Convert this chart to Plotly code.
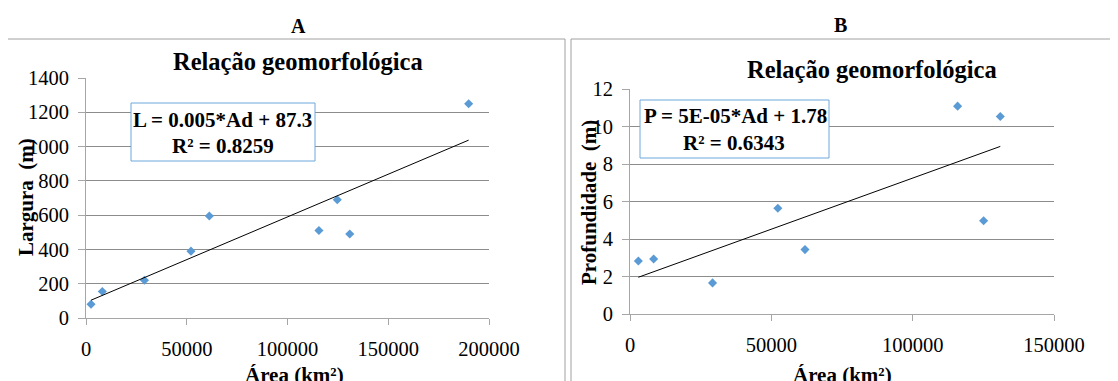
import numpy as np
import plotly.graph_objects as go

W, H = 1118, 381
OFF = 8  # page body margin

# ---- data ----
area_a = [2500, 8100, 29000, 52100, 61200, 115600, 124700, 130900, 189900]
largura = [80, 155, 220, 390, 595, 510, 690, 490, 1250]
area_b = [2950, 8370, 29200, 52300, 61900, 115900, 125100, 131000]
profundidade = [2.83, 2.94, 1.66, 5.65, 3.44, 11.1, 4.98, 10.55]
eq_a = ["L = 0.005*Ad + 87.3", "R² = 0.8259"]
eq_b = ["P = 5E-05*Ad + 1.78", "R² = 0.6343"]
title_txt = "Relação geomorfológica"

FONT = "Times New Roman, Liberation Serif, Tinos, serif"
GRID = "#8c8c8c"
AX = "#a6a6a6"
MK = "#5b9bd5"


def px(x):
    return (x - OFF) / W


def py(y):
    return 1 - (y - OFF) / H


fig = go.Figure()

for i, (xs, ys) in enumerate([(area_a, largura), (area_b, profundidade)]):
    xa = "x" if i == 0 else "x2"
    ya = "y" if i == 0 else "y2"
    fig.add_trace(go.Scatter(x=xs, y=ys, mode="markers", xaxis=xa, yaxis=ya,
                             marker=dict(symbol="diamond", size=7, color=MK),
                             showlegend=False))
    k, b = np.polyfit(xs, ys, 1)
    lx = np.array([min(xs), max(xs)])
    fig.add_trace(go.Scatter(x=lx, y=k * lx + b, mode="lines", xaxis=xa, yaxis=ya,
                             line=dict(color="black", width=1), showlegend=False))

tickfont = dict(family=FONT, size=20.5, color="black")
common_x = dict(showgrid=False, zeroline=False, showline=True, linecolor=AX, linewidth=1,
                ticks="outside", ticklen=6, tickcolor=AX, tickfont=tickfont,
                ticklabelstandoff=6, automargin=False)
common_y = dict(showgrid=True, gridcolor=GRID, gridwidth=1, zeroline=False, showline=True,
                linecolor=AX, linewidth=1, ticks="outside", ticklen=7, tickcolor=AX,
                tickfont=tickfont, ticklabelstandoff=5, automargin=False)

fig.update_layout(
    width=W, height=H, margin=dict(l=0, r=0, t=0, b=0, pad=0, autoexpand=False),
    paper_bgcolor="white", plot_bgcolor="white",
    font=dict(family=FONT),
    xaxis=dict(domain=[px(86), px(489)], range=[0, 200000], dtick=50000, anchor="y",
               tickformat="d", **common_x),
    yaxis=dict(domain=[py(318), py(78)], range=[0, 1400], dtick=200, anchor="x", **common_y),
    xaxis2=dict(domain=[px(630), px(1054)], range=[0, 150000], dtick=50000, anchor="y2",
                tickformat="d", **common_x),
    yaxis2=dict(domain=[py(314), py(89.3)], range=[0, 12], dtick=2, anchor="x2", **common_y),
)

shapes = [
    dict(type="rect", xref="paper", yref="paper", x0=px(7), x1=px(565), y0=py(39), y1=py(400),
         line=dict(color="#a0a0a0", width=1)),
    dict(type="rect", xref="paper", yref="paper", x0=px(571), x1=px(1130), y0=py(39), y1=py(400),
         line=dict(color="#a0a0a0", width=1)),
    dict(type="rect", xref="paper", yref="paper", x0=px(131), x1=px(315), y0=py(103), y1=py(161),
         line=dict(color="#6fa8dc", width=1), fillcolor="white", layer="above"),
    dict(type="rect", xref="paper", yref="paper", x0=px(640), x1=px(829), y0=py(100), y1=py(158),
         line=dict(color="#6fa8dc", width=1), fillcolor="white", layer="above"),
]
fig.update_layout(shapes=shapes)


def txt(x, y, s, size, bold=True, angle=0, xanchor="center"):
    fig.add_annotation(xref="paper", yref="paper", x=px(x), y=py(y), text=f"<b>{s}</b>" if bold else s,
                       showarrow=False, xanchor=xanchor, yanchor="middle", textangle=angle,
                       font=dict(family=FONT, size=size, color="black"))


txt(298, 26, "A", 20)
txt(840, 25, "B", 20)
txt(298, 62, title_txt, 24.5)
txt(872, 69, title_txt, 24.5)
txt(131, 120, eq_a[0], 21, xanchor="left")
txt(223, 146, eq_a[1], 21)
txt(642, 116, eq_b[0], 21, xanchor="left")
txt(734, 143, eq_b[1], 21)
txt(26, 197, "Largura  (m)", 21, angle=-90)
txt(589, 203, "Profundidade  (m)", 21, angle=-90)
txt(294, 375, "Área (km²)", 21)
txt(842, 375, "Área (km²)", 21)

fig.write_html("out.html")
